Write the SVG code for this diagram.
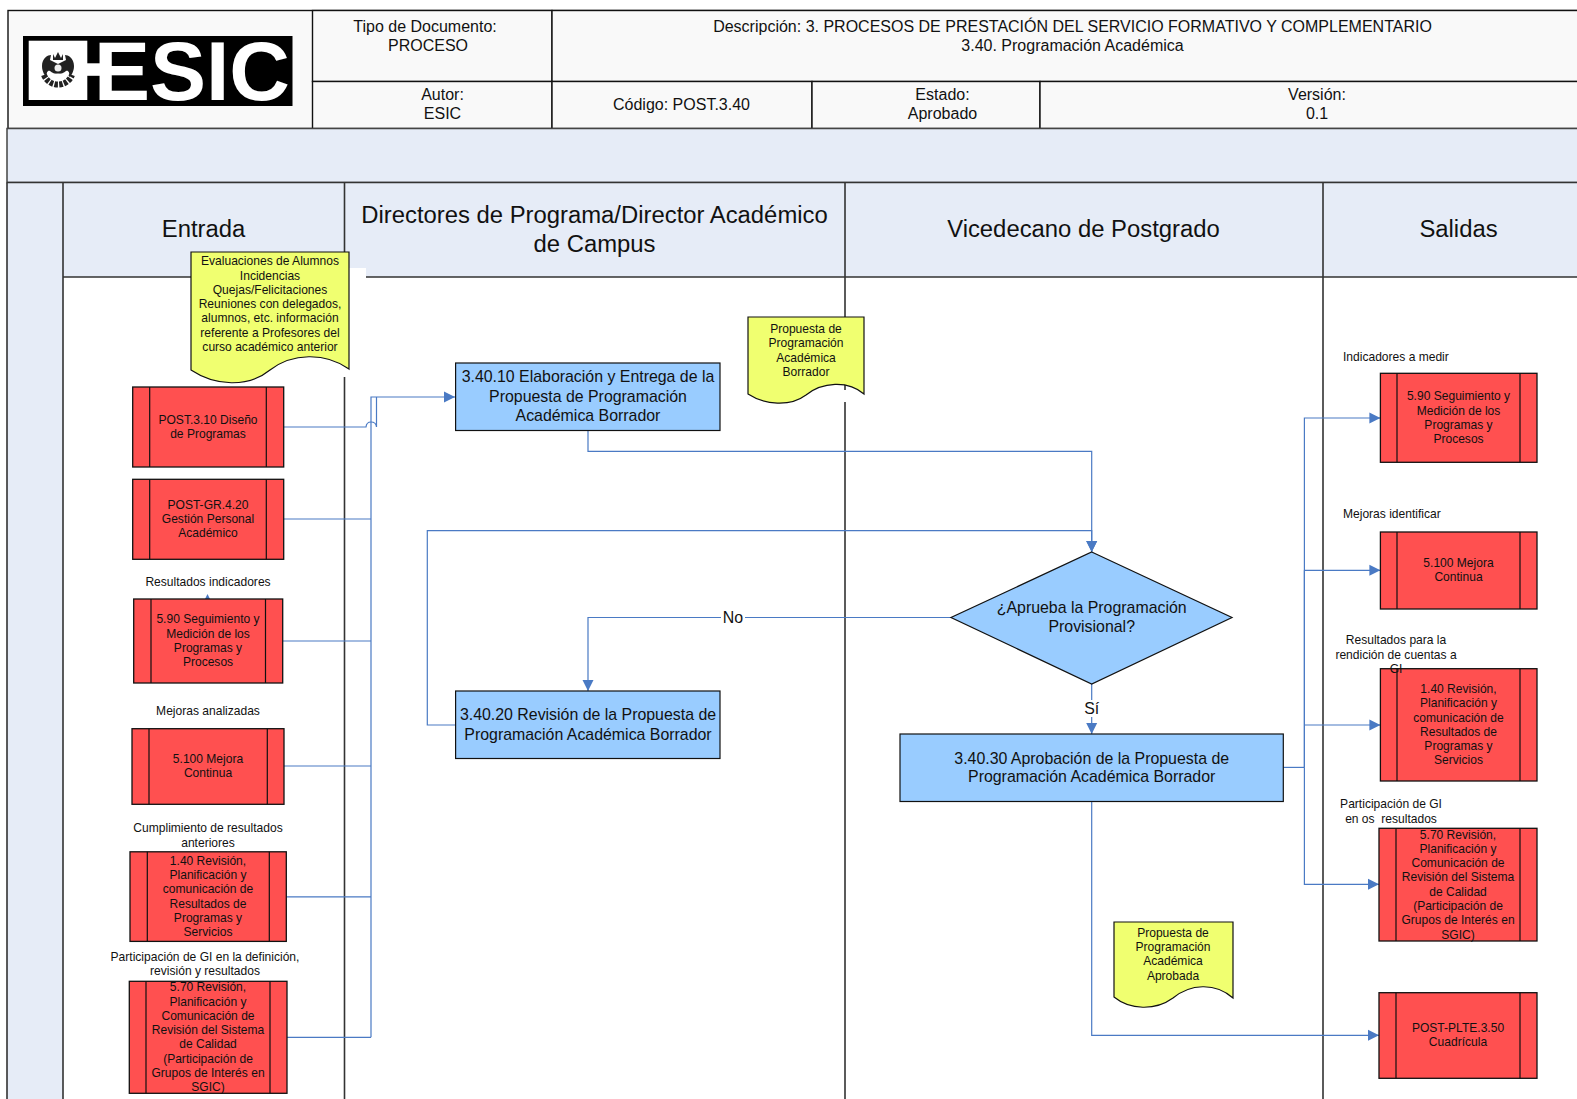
<svg xmlns="http://www.w3.org/2000/svg" width="1577" height="1099" viewBox="0 0 1577 1099">
<style>
text{font-family:"Liberation Sans",Arial,sans-serif;fill:#111;text-anchor:middle;white-space:pre}
.h{font-size:16px}.l{font-size:23.85px}.b{font-size:15.9px}.s{font-size:12.05px}.st{text-anchor:start}
.cell{fill:#f9f9f9;stroke:#111;stroke-width:1.4}
.band{fill:#e6ecf7;stroke:#444;stroke-width:1.5}
.lane{stroke:#333;stroke-width:1.6;fill:none}
.red{fill:#ff5050;stroke:#111;stroke-width:1.3}
.inner{stroke:#111;stroke-width:1.2;fill:none}
.blue{fill:#99ccff;stroke:#111;stroke-width:1.2}
.doc{fill:#f0ff70;stroke:#111;stroke-width:1.2}
.c{fill:none;stroke:#4a7ac4;stroke-width:1.2}
.lbl{fill:#fff}
</style>
<defs><marker id="a" markerUnits="userSpaceOnUse" markerWidth="12" markerHeight="12" refX="11" refY="6" orient="auto"><path d="M0 .5L11 6L0 11.500Z" fill="#4a7ac4"/></marker></defs>
<rect width="1577" height="1099" fill="#fff"/>
<g id="header">
<rect class="cell" x="8" y="10.500" width="1580" height="118"/>
<rect class="cell" x="312.500" y="10.500" width="239.500" height="71"/>
<rect class="cell" x="552" y="10.500" width="1030" height="71"/>
<rect class="cell" x="312.500" y="81.500" width="239.500" height="47"/>
<rect class="cell" x="552" y="81.500" width="260" height="47"/>
<rect class="cell" x="812" y="81.500" width="228" height="47"/>
<rect class="cell" x="1040" y="81.500" width="545" height="47"/>
<text class="h" x="425" y="32">Tipo de Documento:</text><text class="h" x="428" y="51">PROCESO</text>
<text class="h" x="442.500" y="99.800">Autor:</text><text class="h" x="442.500" y="119">ESIC</text>
<text class="h" x="1072.500" y="32">Descripción: 3. PROCESOS DE PRESTACIÓN DEL SERVICIO FORMATIVO Y COMPLEMENTARIO</text>
<text class="h" x="1072.500" y="51">3.40. Programación Académica</text>
<text class="h" x="681.500" y="110">Código: POST.3.40</text>
<text class="h" x="942.500" y="99.800">Estado:</text><text class="h" x="942.500" y="119">Aprobado</text>
<text class="h" x="1317" y="99.800">Versión:</text><text class="h" x="1317" y="119">0.1</text>
</g>
<g id="logo">
<rect x="23" y="36" width="269.500" height="70" fill="#000"/>
<rect x="28.700" y="40.700" width="58.600" height="59.300" fill="#fff"/>
<rect x="87" y="63.300" width="15" height="12.500" fill="#fff"/>
<path d="M44 75A15 15 0 0 0 72 75" fill="none" stroke="#222" stroke-width="6" stroke-dasharray="3.500 1.300"/>
<path d="M42 66C42 58 48 55 51 55L50 60L58 64L66 60L65 55C68 55 74 58 74 66C74 72 71 76 69 77C70 72 68 70 66 71C62 75 54 75 50 71C48 70 46 72 47 77C45 76 42 72 42 66Z" fill="#222"/>
<path d="M53 54L55 58L58 52L61 58L63 54L63 60H53Z" fill="#222"/>
<path d="M51 75Q58 80 65 75Q58 72 51 75Z" fill="#fff"/>
<circle cx="58" cy="68" r="3.500" fill="#eee"/>
<text x="93.900" y="100" font-size="84" font-weight="700" textLength="196" lengthAdjust="spacingAndGlyphs" style="text-anchor:start;fill:#fff">ESIC</text>
</g>
<g id="lanes">
<rect class="band" x="7" y="128.500" width="1575" height="54"/>
<rect x="7" y="182.500" width="1575" height="94.500" fill="#e6ecf7"/>
<rect x="7" y="182.500" width="56" height="920" fill="#e6ecf7"/>
<path class="lane" d="M7 182.500H1577M63 277H1577M7 182.500V1099M63 182.500V1099M344.500 182.500V1099M845 182.500V1099M1323 182.500V1099"/>
<rect x="349" y="268" width="17" height="110" fill="#fff"/>
<rect x="340" y="365" width="9" height="12" fill="#fff"/>
<rect x="840" y="390" width="24" height="12" fill="#fff"/>
<text class="l" x="203.500" y="237">Entrada</text>
<text class="l" x="594.500" y="223">Directores de Programa/Director Académico</text>
<text class="l" x="594.500" y="252">de Campus</text>
<text class="l" x="1083.500" y="237">Vicedecano de Postgrado</text>
<text class="l" x="1458.500" y="237">Salidas</text>
</g>
<g id="connectors">
<path class="c" d="M283.700 427H366Q366.500 422 371 422Q376 422 376.500 427V397" stroke-width="1"/>
<path class="c" d="M371 1037.300V397H455" marker-end="url(#a)" stroke-width="1.600"/>
<path class="c" d="M283.700 519H371M282.700 641H371M284 766H371M286.300 896.800H371M287 1037.300H371"/>
<path class="c" d="M588 430.500V451.300H1091.700V552" marker-end="url(#a)"/>
<path class="c" d="M455.600 725H427.300V530.700H1091.700V552" marker-end="url(#a)"/>
<path class="c" d="M951 617.500H588V691" marker-end="url(#a)"/>
<path class="c" d="M1091.700 684V734" marker-end="url(#a)"/>
<path class="c" d="M1283.300 767.400H1304.400" stroke-width="1.600"/>
<path class="c" d="M1304.400 767.400V418H1380.400" marker-end="url(#a)"/>
<path class="c" d="M1304.400 767.400V570.300" stroke-width="1.800"/>
<path class="c" d="M1304.400 570.300H1380.400" marker-end="url(#a)"/>
<path class="c" d="M1304.400 725H1380.400" marker-end="url(#a)"/>
<path class="c" d="M1304.400 767.400V884.300H1379" marker-end="url(#a)"/>
<path class="c" d="M1091.700 801.500V1035.300H1379" marker-end="url(#a)"/>
<path d="M205 599L207.500 594L210 599Z" fill="#4a7ac4"/>
<rect class="lbl" x="721" y="609" width="24" height="17"/><text class="b" x="733" y="623">No</text>
<rect class="lbl" x="1082" y="700" width="19" height="17"/><text class="b" x="1091.700" y="714">Sí</text>
</g>
<g id="doc-entrada">
<path class="doc" d="M191 252H349V369C325 352 292 353 270 370C248 388 215 386 191 370Z"/>
<text class="s" x="270" y="265">Evaluaciones de Alumnos</text><text class="s" x="270" y="280">Incidencias</text><text class="s" x="270" y="294">Quejas/Felicitaciones</text><text class="s" x="270" y="308">Reuniones con delegados,</text><text class="s" x="270" y="322">alumnos, etc. información</text><text class="s" x="270" y="337">referente a Profesores del</text><text class="s" x="270" y="351">curso académico anterior</text>
</g>
<g id="in-post310"><rect class="red" x="132.700" y="387" width="151" height="80"/><path class="inner" d="M149.700 387V467M266.300 387V467"/><text class="s" x="208" y="424">POST.3.10 Diseño</text><text class="s" x="208" y="438">de Programas</text></g>
<g id="in-postgr420"><rect class="red" x="132.700" y="479.300" width="151" height="80"/><path class="inner" d="M149.700 479.300V559.300M266.300 479.300V559.300"/><text class="s" x="208" y="508.700">POST-GR.4.20</text><text class="s" x="208" y="522.700">Gestión Personal</text><text class="s" x="208" y="536.700">Académico</text></g>
<g id="in-590"><text class="s" x="208" y="586">Resultados indicadores</text><rect class="red" x="133.700" y="599" width="149" height="84"/><path class="inner" d="M151 599V683M265.500 599V683"/><text class="s" x="208" y="623">5.90 Seguimiento y</text><text class="s" x="208" y="638">Medición de los</text><text class="s" x="208" y="652">Programas y</text><text class="s" x="208" y="666">Procesos</text></g>
<g id="in-5100"><text class="s" x="208" y="714.500">Mejoras analizadas</text><rect class="red" x="132" y="728.700" width="152" height="75.600"/><path class="inner" d="M149 728.700V804.300M267.300 728.700V804.300"/><text class="s" x="208" y="762.700">5.100 Mejora</text><text class="s" x="208" y="776.800">Continua</text></g>
<g id="in-140"><text class="s" x="208" y="832">Cumplimiento de resultados</text><text class="s" x="208" y="847">anteriores</text><rect class="red" x="130" y="851.800" width="156.300" height="89.600"/><path class="inner" d="M147.300 851.800V941.400M269.300 851.800V941.400"/><text class="s" x="208" y="865">1.40 Revisión,</text><text class="s" x="208" y="879">Planificación y</text><text class="s" x="208" y="893">comunicación de</text><text class="s" x="208" y="908">Resultados de</text><text class="s" x="208" y="922">Programas y</text><text class="s" x="208" y="936">Servicios</text></g>
<g id="in-570"><text class="s" x="205" y="961">Participación de GI en la definición,</text><text class="s" x="205" y="975">revisión y resultados</text><rect class="red" x="129.300" y="981.300" width="157.700" height="112"/><path class="inner" d="M146 981.300V1093.300M270 981.300V1093.300"/><text class="s" x="208" y="990.500">5.70 Revisión,</text><text class="s" x="208" y="1005.500">Planificación y</text><text class="s" x="208" y="1020">Comunicación de</text><text class="s" x="208" y="1034">Revisión del Sistema</text><text class="s" x="208" y="1048">de Calidad</text><text class="s" x="208" y="1063">(Participación de</text><text class="s" x="208" y="1077">Grupos de Interés en</text><text class="s" x="208" y="1091">SGIC)</text></g>
<g id="task-34010"><rect class="blue" x="455.600" y="363" width="264.400" height="67.500"/><text class="b" x="588" y="382">3.40.10 Elaboración y Entrega de la</text><text class="b" x="588" y="401.500">Propuesta de Programación</text><text class="b" x="588" y="421">Académica Borrador</text></g>
<g id="doc-borrador"><path class="doc" d="M748 317H864V394C848 380 822 382 806 395C790 407 765 405 748 394Z"/><text class="s" x="806" y="333">Propuesta de</text><text class="s" x="806" y="347">Programación</text><text class="s" x="806" y="362">Académica</text><text class="s" x="806" y="376">Borrador</text></g>
<g id="task-34020"><rect class="blue" x="455.600" y="691" width="264.400" height="67.500"/><text class="b" x="588" y="720">3.40.20 Revisión de la Propuesta de</text><text class="b" x="588" y="739.500">Programación Académica Borrador</text></g>
<g id="decision"><path class="blue" d="M1091.700 552L1232 617.500L1091.700 684L951 617.500Z"/><text class="b" x="1091.700" y="613">¿Aprueba la Programación</text><text class="b" x="1091.700" y="632">Provisional?</text></g>
<g id="task-34030"><rect class="blue" x="900" y="734" width="383.300" height="67.500"/><text class="b" x="1091.700" y="764">3.40.30 Aprobación de la Propuesta de</text><text class="b" x="1091.700" y="782">Programación Académica Borrador</text></g>
<g id="doc-aprobada"><path class="doc" d="M1114 922H1233V998C1215 982 1190 984 1173 998C1155 1011 1130 1010 1114 997Z"/><text class="s" x="1173" y="937">Propuesta de</text><text class="s" x="1173" y="951">Programación</text><text class="s" x="1173" y="965">Académica</text><text class="s" x="1173" y="980">Aprobada</text></g>
<g id="out-590"><text class="s st" x="1343" y="361">Indicadores a medir</text><rect class="red" x="1380.400" y="373.300" width="156.600" height="89"/><path class="inner" d="M1397 373.300V462.300M1520 373.300V462.300"/><text class="s" x="1458.500" y="400">5.90 Seguimiento y</text><text class="s" x="1458.500" y="415">Medición de los</text><text class="s" x="1458.500" y="429">Programas y</text><text class="s" x="1458.500" y="443">Procesos</text></g>
<g id="out-5100"><text class="s st" x="1343" y="518">Mejoras identificar</text><rect class="red" x="1380.400" y="532" width="156.600" height="77"/><path class="inner" d="M1397 532V609M1520 532V609"/><text class="s" x="1458.500" y="567">5.100 Mejora</text><text class="s" x="1458.500" y="581">Continua</text></g>
<g id="out-140"><rect class="red" x="1380.400" y="668.700" width="156.600" height="112.300"/><path class="inner" d="M1397 668.700V781M1520 668.700V781"/><text class="s" x="1396" y="644">Resultados para la</text><text class="s" x="1396" y="659">rendición de cuentas a</text><text class="s" x="1396" y="673">GI</text><text class="s" x="1458.500" y="692.500">1.40 Revisión,</text><text class="s" x="1458.500" y="707">Planificación y</text><text class="s" x="1458.500" y="721.500">comunicación de</text><text class="s" x="1458.500" y="736">Resultados de</text><text class="s" x="1458.500" y="750">Programas y</text><text class="s" x="1458.500" y="764">Servicios</text></g>
<g id="out-570"><text class="s" x="1391" y="808">Participación de GI</text><text class="s" x="1391" y="823">en os  resultados</text><rect class="red" x="1379" y="828.300" width="158" height="112.700"/><path class="inner" d="M1396 828.300V941M1520 828.300V941"/><text class="s" x="1458" y="839">5.70 Revisión,</text><text class="s" x="1458" y="853">Planificación y</text><text class="s" x="1458" y="867">Comunicación de</text><text class="s" x="1458" y="881">Revisión del Sistema</text><text class="s" x="1458" y="896">de Calidad</text><text class="s" x="1458" y="910">(Participación de</text><text class="s" x="1458" y="924">Grupos de Interés en</text><text class="s" x="1458" y="939">SGIC)</text></g>
<g id="out-plte"><rect class="red" x="1379" y="992.700" width="158" height="85.600"/><path class="inner" d="M1396 992.700V1078.300M1520 992.700V1078.300"/><text class="s" x="1458" y="1032">POST-PLTE.3.50</text><text class="s" x="1458" y="1046">Cuadrícula</text></g>
</svg>
